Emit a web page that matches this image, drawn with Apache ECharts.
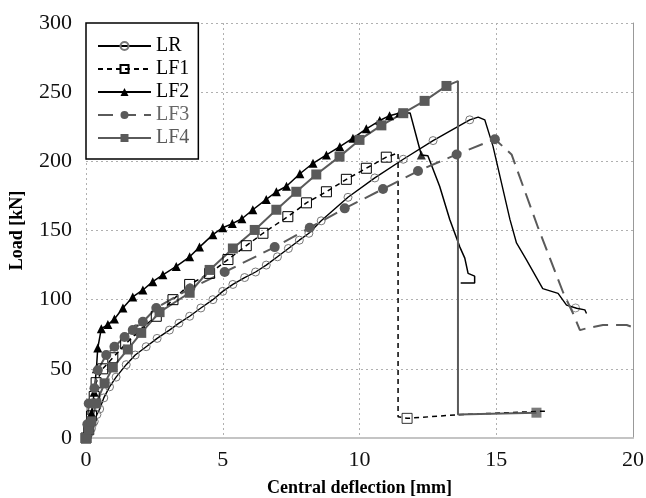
<!DOCTYPE html>
<html lang="en">
<head>
    <meta charset="UTF-8">
    <title>Load - deflection</title>
    <script src="https://cdn.jsdelivr.net/npm/echarts@6/dist/echarts.min.js"></script>
</head>
<body style="margin:0;background:#fff;">
<div id="main" style="width:646px;height:498px;"></div>
<script type="text/javascript">
    // [deflection mm, load kN] - points with markers (rising branch)
    var lrRise = [[0,0],[0.1,3],[0.2,7],[0.3,12],[0.4,17],[0.5,21],[0.65,29],[0.86,37],[1.1,44],[1.47,53],[1.8,60],
        [2.2,66],[2.6,72],[3.05,78],[3.4,83],[3.79,88],[4.2,94],[4.64,100],[5.0,106],[5.37,111],[5.8,116],[6.2,120],
        [6.59,125],[7.0,131],[7.4,137],[7.8,143],[8.15,148],[8.6,157],[9.58,174],[10.56,188],[11.6,201.5],[12.69,215],[14.03,230]];
    var lrFall = [[14.34,232],[14.58,230],[14.88,211],[15.5,158],[15.74,141],[16.1,129],[16.7,108],[17.26,104.6],
        [17.57,96],[17.94,93.8],[18.24,92.6],[18.3,90]];
    var lrMarks = [[17.9,94]];

    var lf1Rise = [[0,0],[0.1,6],[0.2,16],[0.3,30],[0.37,40],[0.61,50],[0.98,58],[1.45,68],[1.96,78],[2.57,88],[3.18,100],
        [3.79,111],[4.52,119],[5.19,129],[5.86,139],[6.47,148],[7.38,160],[8.06,170],[8.79,178],[9.52,187],[10.25,195],[10.98,203]];
    var lf1Fall = [[11.41,206],[11.41,15.4],[11.74,14.2],[13.6,16.8],[16.9,19.5]];
    var lf1Marks = [[11.74,14.2]];

    var lf2Rise = [[0,0],[0.1,8],[0.2,18],[0.3,33],[0.38,50],[0.43,65],[0.56,79],[0.8,82],[1.04,86],[1.35,94],[1.71,102],
        [2.08,107],[2.44,113],[2.81,118],[3.3,124],[3.79,131],[4.15,138],[4.64,147],[5.0,152],[5.35,155],[5.7,158.5],
        [6.1,165],[6.59,172.5],[6.96,178],[7.33,182],[7.82,191],[8.3,198.6],[8.79,204.6],[9.28,210.6],[9.76,216.7],
        [10.25,223.5],[10.74,229.5],[11.1,233],[11.47,235]];
    var lf2Fall = [[11.85,235],[12.26,204.6],[12.5,204],[12.93,182],[13.3,158],[13.67,138],[13.85,130],[13.97,119],
        [14.21,117],[14.21,112],[13.7,112]];
    var lf2Marks = [[12.26,204.6]];

    var lf3Rise = [[0,0],[0.05,10],[0.1,25],[0.31,36],[0.43,49],[0.74,60],[1.04,66],[1.41,73],[1.71,78],[2.08,84],
        [2.57,94],[3.8,108],[5.07,120],[6.9,138],[8.18,152],[9.46,166],[10.86,180],[12.14,193],[13.55,205],[14.95,216]];
    var lf3Fall = [[15.56,205],[16.53,152],[17.45,105],[17.81,90],[18.06,78],[18.3,79.3],[18.9,81.7],[19.77,81.7],[20.0,80]];

    var lf4Rise = [[0,0],[0.1,6],[0.2,12],[0.37,25],[0.68,39.5],[0.98,51],[1.53,64],[2.02,76],[2.69,91],[3.79,105],
        [4.52,121.5],[5.37,137],[6.17,150.4],[6.96,165],[7.69,178],[8.42,190.5],[9.27,203.4],[10.0,215.5],[10.8,226],
        [11.6,234.8],[12.38,243.7],[13.18,254.5]];
    var lf4Fall = [[13.6,258],[13.6,17],[16.47,18.3]];
    var lf4Marks = [[16.47,18.3]];

    var names = ['LR', 'LF1', 'LF2', 'LF3', 'LF4'];
    var xTicks = [0, 5, 10, 15, 20];
    var yTicks = [0, 50, 100, 150, 200, 250, 300];

    var FONT = '"Liberation Serif", "Times New Roman", serif';
    var GRAY = '#5a5a5a';

    var styles = {
        LR:  {line: {color: '#000', width: 1.4}, symbol: 'circle', size: 8,
              item: {color: 'rgba(255,255,255,0)', borderColor: '#777', borderWidth: 1}},
        LF1: {line: {color: '#000', width: 1.5, type: [5, 4]}, symbol: 'rect', size: 10,
              item: {color: 'rgba(255,255,255,0)', borderColor: '#000', borderWidth: 1}},
        LF2: {line: {color: '#000', width: 1.5}, symbol: 'triangle', size: 9,
              item: {color: '#000'}},
        LF3: {line: {color: GRAY, width: 2, type: [15, 8]}, symbol: 'circle', size: 10,
              item: {color: GRAY}},
        LF4: {line: {color: GRAY, width: 2}, symbol: 'rect', size: 10,
              item: {color: GRAY}}
    };

    function lineSeries(name, rise, fall) {
        var s = styles[name];
        var n = rise.length;
        return {
            name: name, type: 'line', data: rise.concat(fall),
            symbol: s.symbol, showAllSymbol: true,
            symbolSize: function (v, p) { return p.dataIndex < n ? s.size : 0; },
            lineStyle: s.line, itemStyle: s.item, animation: false
        };
    }
    function markSeries(name, pts) {
        var s = styles[name];
        return {
            name: name, type: 'scatter', data: pts, symbol: s.symbol, symbolSize: s.size,
            itemStyle: s.item, animation: false
        };
    }

    var myChart = echarts.init(document.getElementById('main'));
    myChart.setOption({
        backgroundColor: '#fff',
        grid: {left: 86, right: 13, top: 23, bottom: 60, outerBoundsMode: 'none'},
        legend: {
            orient: 'vertical', left: 86, top: 23,
            padding: [13, 9, 11, 11],
            backgroundColor: '#fff', borderColor: '#000', borderWidth: 1.5,
            itemWidth: 53, itemHeight: 10, itemGap: 3,
            textStyle: {fontFamily: FONT, fontSize: 20, lineHeight: 20},
            data: [
                {name: 'LR', textStyle: {color: '#000'}},
                {name: 'LF1', textStyle: {color: '#000'}},
                {name: 'LF2', textStyle: {color: '#000'}},
                {name: 'LF3', textStyle: {color: '#666'}},
                {name: 'LF4', textStyle: {color: GRAY}}
            ]
        },
        xAxis: {
            type: 'value', min: xTicks[0], max: xTicks[xTicks.length - 1], interval: 5,
            name: 'Central deflection [mm]', nameLocation: 'middle', nameGap: 41,
            nameTextStyle: {fontFamily: FONT, fontSize: 18, fontWeight: 'bold', color: '#000'},
            axisLine: {lineStyle: {color: '#c4c4c4', width: 2}},
            axisTick: {show: false},
            axisLabel: {fontFamily: FONT, fontSize: 22, color: '#111', margin: 11},
            splitLine: {lineStyle: {color: '#b0b0b0', type: [2, 3]}}
        },
        yAxis: [{
            type: 'value', min: yTicks[0], max: yTicks[yTicks.length - 1], interval: 50,
            name: 'Load [kN]', nameLocation: 'middle', nameGap: 60,
            nameTextStyle: {fontFamily: FONT, fontSize: 18, fontWeight: 'bold', color: '#000'},
            axisLine: {show: false},
            axisTick: {show: false},
            axisLabel: {fontFamily: FONT, fontSize: 22, color: '#111', margin: 14},
            splitLine: {lineStyle: {color: '#b0b0b0', type: [2, 3]}}
        }, {
            type: 'value', position: 'right', min: 0, max: 300, interval: 50,
            axisLine: {show: true, lineStyle: {color: '#999', width: 1}},
            axisTick: {show: false}, axisLabel: {show: false}, splitLine: {show: false}
        }],
        series: [
            lineSeries('LR', lrRise, lrFall),
            lineSeries('LF1', lf1Rise, lf1Fall),
            lineSeries('LF2', lf2Rise, lf2Fall),
            lineSeries('LF3', lf3Rise, lf3Fall),
            lineSeries('LF4', lf4Rise, lf4Fall),
            markSeries('LR', lrMarks),
            markSeries('LF1', lf1Marks),
            markSeries('LF2', lf2Marks),
            markSeries('LF4', lf4Marks)
        ]
    });
</script>
</body>
</html>
